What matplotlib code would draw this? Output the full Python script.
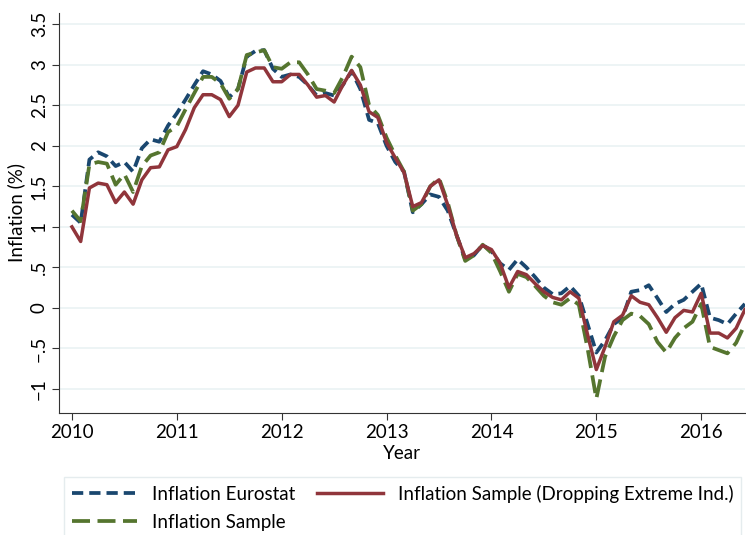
import numpy as np
import matplotlib
matplotlib.use("Agg")
import matplotlib.pyplot as plt

# monthly inflation, Jan 2010 - Jun 2016 (%)
eurostat = [
    1.15, 1.05, 1.83, 1.92, 1.87, 1.75, 1.80, 1.68, 1.97, 2.08, 2.05, 2.25,
    2.40, 2.57, 2.75, 2.92, 2.88, 2.80, 2.60, 2.70, 3.10, 3.17, 3.18, 2.95,
    2.85, 2.88, 2.85, 2.75, 2.62, 2.65, 2.62, 2.75, 2.92, 2.70, 2.32, 2.28,
    2.00, 1.80, 1.68, 1.18, 1.28, 1.40, 1.37, 1.20, 0.90, 0.60, 0.65, 0.78,
    0.70, 0.55, 0.47, 0.60, 0.50, 0.38, 0.25, 0.17, 0.18, 0.27, 0.15, -0.20,
    -0.55, -0.40, -0.20, -0.12, 0.20, 0.22, 0.28, 0.12, -0.05, 0.05, 0.10, 0.20,
    0.30, -0.12, -0.15, -0.20, -0.07, 0.05,
]
sample = [
    1.20, 1.07, 1.77, 1.80, 1.78, 1.52, 1.65, 1.43, 1.75, 1.88, 1.92, 2.17,
    2.24, 2.45, 2.65, 2.85, 2.85, 2.77, 2.58, 2.70, 3.12, 3.15, 3.18, 2.97,
    2.95, 3.03, 3.03, 2.88, 2.70, 2.68, 2.65, 2.85, 3.10, 2.97, 2.50, 2.38,
    2.10, 1.88, 1.68, 1.20, 1.28, 1.50, 1.60, 1.30, 0.90, 0.58, 0.65, 0.78,
    0.68, 0.45, 0.20, 0.42, 0.38, 0.27, 0.15, 0.07, 0.04, 0.12, 0.04, -0.50,
    -1.12, -0.60, -0.35, -0.15, -0.07, -0.10, -0.20, -0.42, -0.55, -0.37, -0.25, -0.17,
    0.05, -0.48, -0.52, -0.56, -0.43, -0.20,
]
sample_trim = [
    1.00, 0.82, 1.48, 1.54, 1.52, 1.30, 1.43, 1.28, 1.58, 1.73, 1.74, 1.95,
    1.99, 2.20, 2.47, 2.63, 2.63, 2.57, 2.36, 2.50, 2.91, 2.96, 2.96, 2.79,
    2.79, 2.88, 2.88, 2.75, 2.60, 2.62, 2.54, 2.75, 2.93, 2.75, 2.42, 2.35,
    2.04, 1.85, 1.67, 1.25, 1.30, 1.50, 1.58, 1.27, 0.90, 0.62, 0.67, 0.77,
    0.72, 0.55, 0.25, 0.45, 0.41, 0.30, 0.20, 0.13, 0.10, 0.20, 0.12, -0.33,
    -0.76, -0.48, -0.17, -0.09, 0.15, 0.07, 0.04, -0.12, -0.30, -0.12, -0.03, -0.05,
    0.18, -0.31, -0.31, -0.37, -0.25, -0.02,
]
year_ticks = [2010, 2011, 2012, 2013, 2014, 2015, 2016]
y_ticks = [-1, -0.5, 0, 0.5, 1, 1.5, 2, 2.5, 3, 3.5]
y_labels = ["\u22121", "\u2212.5", "0", ".5", "1", "1.5", "2", "2.5", "3", "3.5"]

plt.rcParams["font.family"] = ["Lato", "DejaVu Sans"]

navy = "#1a476f"
maroon = "#90353b"
green = "#55752f"

t = 2010 + np.arange(len(eurostat)) / 12

fig = plt.figure(figsize=(7.46, 5.35), dpi=100)
ax = fig.add_axes([0.079, 0.228, 0.92, 0.748])

ax.plot(t, eurostat, color=navy, lw=2.7, dashes=(3.0, 1.6), label="Inflation Eurostat")
ax.plot(t, sample, color=green, lw=2.7, dashes=(4.8, 2.0), label="Inflation Sample")
ax.plot(t, sample_trim, color=maroon, lw=2.5, label="Inflation Sample (Dropping Extreme Ind.)")

ax.set_xlim(2009.876, 2016.42)
ax.set_ylim(-1.296, 3.64)
ax.set_xticks(year_ticks)
ax.set_xticklabels([str(y) for y in year_ticks])
ax.set_yticks(y_ticks)
ax.set_yticklabels(y_labels, rotation=90, va="center")
ax.grid(axis="y", color="#eaf2f3", lw=1.2)
ax.set_axisbelow(True)
for side in ["top", "right"]:
    ax.spines[side].set_visible(False)
for side in ["left", "bottom"]:
    ax.spines[side].set_color("#333333")
ax.tick_params(labelsize=13.5, length=5, color="#333333", pad=3)
ax.set_xlabel("Year", fontsize=13.5, labelpad=3)
ax.set_ylabel("Inflation (%)", fontsize=13.5, labelpad=4)

handles, labels = ax.get_legend_handles_labels()
leg = fig.legend(handles, labels, ncol=2, loc="upper left", bbox_to_anchor=(0.0858, 0.108),
                 borderaxespad=0, fontsize=13.5, frameon=True, fancybox=False,
                 handlelength=3.5, handletextpad=0.8, columnspacing=1.15,
                 labelspacing=0.6, borderpad=0.4)
leg.get_frame().set_edgecolor("#dfe8ea")
leg.get_frame().set_linewidth(1.0)

fig.savefig("out.png", dpi=100)
